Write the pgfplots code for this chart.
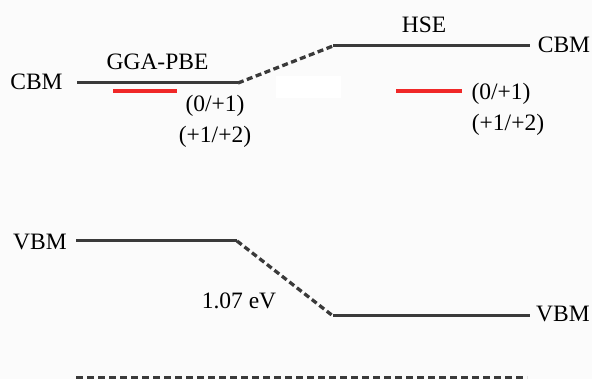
\documentclass[border=0pt]{standalone}
\usepackage{pgfplots}
\pgfplotsset{compat=1.18}
\usepackage{fontspec}
\setmainfont{Liberation Serif}
\definecolor{levelgray}{RGB}{58,58,58}
\definecolor{defectred}{RGB}{240,40,40}
\definecolor{paper}{RGB}{251,251,251}
\tikzset{lbl/.style={font=\fontsize{23.5}{26}\selectfont, text=black, inner sep=0pt, anchor=base}}
\begin{document}
\begin{tikzpicture}
\begin{axis}[
  scale only axis,
  width=592pt, height=379pt,
  xmin=0, xmax=592, ymin=0, ymax=379,
  y dir=reverse,
  hide axis,
]
% background
\fill[paper] (axis cs:0,0) rectangle (axis cs:592,379);
\fill[white] (axis cs:276,76) rectangle (axis cs:341,98);

% band edges: GGA-PBE (left) and HSE (right)
\addplot[levelgray, line width=3pt] coordinates {(77,83) (238,83)};
\addplot[levelgray, line width=3pt] coordinates {(333,46) (530,46)};
\addplot[levelgray, line width=3pt] coordinates {(76,241) (237,241)};
\addplot[levelgray, line width=3pt] coordinates {(333,316) (530,316)};

% alignment between the two functionals
\addplot[levelgray, line width=3.3pt, dash pattern=on 6pt off 3.5pt] coordinates {(238,83) (333,46)};
\addplot[levelgray, line width=3.3pt, dash pattern=on 6pt off 3.5pt] coordinates {(237,241) (333,316)};

% reference level
\addplot[levelgray, line width=3.5pt, dash pattern=on 7pt off 4pt] coordinates {(76,377.8) (527,377.8)};

% transition levels
\addplot[defectred, line width=4.5pt] coordinates {(113,91) (177,91)};
\addplot[defectred, line width=4.5pt] coordinates {(396,91) (462,91)};

% labels
\node[lbl] at (axis cs:36.5,90) {CBM};
\node[lbl] at (axis cs:157.5,70) {GGA-PBE};
\node[lbl] at (axis cs:215,112) {(0/+1)};
\node[lbl] at (axis cs:215,143) {(+1/+2)};
\node[lbl] at (axis cs:424,33) {HSE};
\node[lbl] at (axis cs:564,53) {CBM};
\node[lbl] at (axis cs:501,100) {(0/+1)};
\node[lbl] at (axis cs:508,131) {(+1/+2)};
\node[lbl] at (axis cs:40,250) {VBM};
\node[lbl] at (axis cs:239,309) {1.07 eV};
\node[lbl] at (axis cs:563,322) {VBM};
\end{axis}
\end{tikzpicture}
\end{document}
